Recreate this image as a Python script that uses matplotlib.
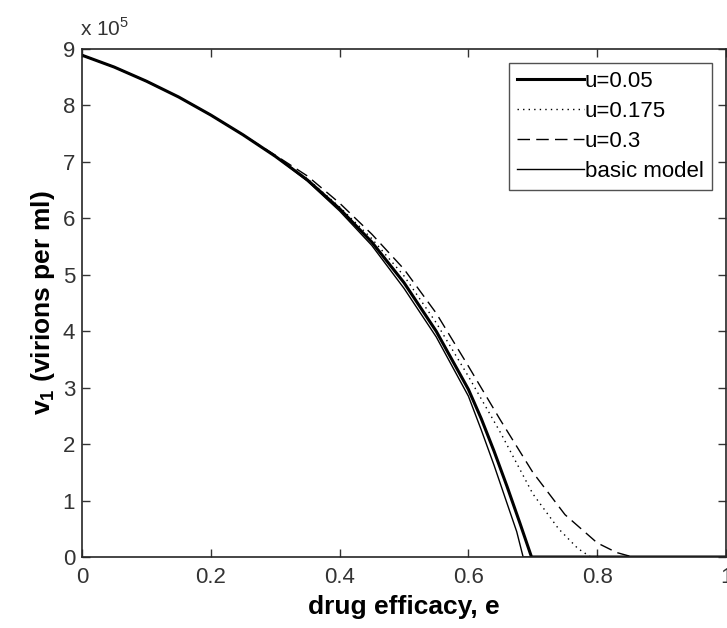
import matplotlib
matplotlib.use("Agg")
import matplotlib.pyplot as plt

plt.rcParams['font.family'] = ['Liberation Sans', 'DejaVu Sans']

# values in units of 1e5 virions per ml
e_basic = [0, 0.05, 0.1, 0.15, 0.2, 0.25, 0.3, 0.35, 0.4, 0.45, 0.5, 0.55, 0.6, 0.62, 0.64, 0.66, 0.675, 0.685, 1.0]
v_basic = [8.89, 8.68, 8.43, 8.15, 7.83, 7.48, 7.10, 6.66, 6.13, 5.52, 4.76, 3.90, 2.85, 2.25, 1.62, 0.95, 0.45, 0.0, 0.0]

e_u005 = [0, 0.05, 0.1, 0.15, 0.2, 0.25, 0.3, 0.35, 0.4, 0.45, 0.5, 0.55, 0.6, 0.62, 0.64, 0.66, 0.68, 0.698, 1.0]
v_u005 = [8.89, 8.68, 8.43, 8.15, 7.83, 7.48, 7.10, 6.68, 6.17, 5.58, 4.86, 4.00, 2.97, 2.45, 1.87, 1.25, 0.60, 0.0, 0.0]

e_u0175 = [0, 0.05, 0.1, 0.15, 0.2, 0.25, 0.3, 0.35, 0.4, 0.45, 0.5, 0.55, 0.6, 0.65, 0.7, 0.74, 0.77, 0.79, 1.0]
v_u0175 = [8.89, 8.68, 8.43, 8.15, 7.83, 7.48, 7.10, 6.70, 6.20, 5.64, 4.98, 4.15, 3.20, 2.20, 1.12, 0.50, 0.15, 0.0, 0.0]

e_u03 = [0, 0.05, 0.1, 0.15, 0.2, 0.25, 0.3, 0.35, 0.4, 0.45, 0.5, 0.55, 0.6, 0.65, 0.7, 0.75, 0.8, 0.83, 0.855, 1.0]
v_u03 = [8.89, 8.68, 8.43, 8.15, 7.83, 7.48, 7.12, 6.75, 6.27, 5.72, 5.10, 4.32, 3.38, 2.42, 1.50, 0.75, 0.25, 0.08, 0.0, 0.0]

labels = ['u=0.05', 'u=0.175', 'u=0.3', 'basic model']
x_ticks = [0, 0.2, 0.4, 0.6, 0.8, 1]
x_ticklabels = ['0', '0.2', '0.4', '0.6', '0.8', '1']
y_ticks = list(range(0, 10))

fig = plt.figure(figsize=(7.27, 6.28), dpi=100)
ax = fig.add_axes([82/727, 1-557/628, (726-82)/727, (557-49)/628])

ax.plot(e_u005, v_u005, color='black', lw=2.2, ls='-', label=labels[0])
ax.plot(e_u0175, v_u0175, color='black', lw=1.0, ls=(0, (1, 3)), label=labels[1])
ax.plot(e_u03, v_u03, color='black', lw=1.0, ls=(0, (9, 4.5)), label=labels[2])
ax.plot(e_basic, v_basic, color='black', lw=1.0, ls='-', label=labels[3])

ax.set_xlim(0, 1)
ax.set_ylim(0, 9)
ax.set_xticks(x_ticks)
ax.set_xticklabels(x_ticklabels)
ax.set_yticks(y_ticks)
ax.tick_params(direction='in', length=6, width=1, top=True, right=True,
               labelsize=16, colors='#333333', pad=5)
ax.tick_params(axis='x', pad=7)
for s in ax.spines.values():
    s.set_color('#262626')
    s.set_linewidth(1.2)

ax.set_xlabel('drug efficacy, e', fontsize=19, fontweight='bold', labelpad=5)
ax.set_ylabel('v$_\\mathregular{1}$ (virions per ml)', fontsize=19, fontweight='bold', labelpad=4)
ax.text(-0.003, 1.018, 'x 10$^\\mathregular{5}$', transform=ax.transAxes, fontsize=15,
        ha='left', va='bottom', color='#333333')

leg = ax.legend(loc='upper right', fontsize=16, frameon=True, fancybox=False,
                edgecolor='#262626', handlelength=3.0, handletextpad=0.05,
                borderpad=0.35, labelspacing=0.4, borderaxespad=0.65)
leg.get_frame().set_linewidth(1.0)

fig.savefig('out.png', dpi=100, facecolor='white')
